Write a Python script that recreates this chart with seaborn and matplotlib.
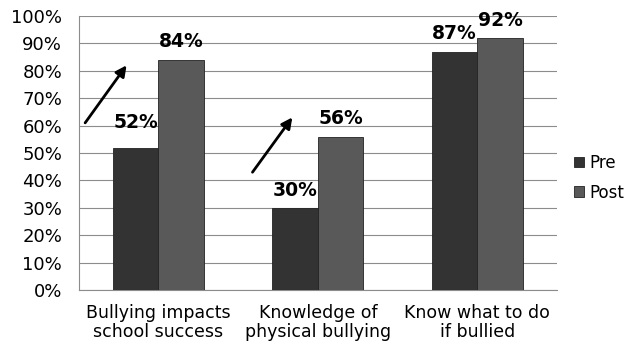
import matplotlib
matplotlib.use("Agg")
import matplotlib.pyplot as plt
import seaborn as sns
import pandas as pd
from matplotlib.ticker import PercentFormatter, FixedLocator

categories = ["Bullying impacts\nschool success", "Knowledge of\nphysical bullying", "Know what to do\nif bullied"]
pre = [52, 30, 87]
post = [84, 56, 92]
series = ["Pre", "Post"]
label_pad = [[11, 6], [6, 6], [6, 6]]  # points above bar top

# arrows (data coords): start x, start y, end x, end y
arrows = [(-0.46, 61, -0.20, 82), (0.59, 43, 0.84, 63)]

df = pd.DataFrame({
    "category": categories * 2,
    "value": pre + post,
    "series": ["Pre"] * 3 + ["Post"] * 3,
})

sns.set_style("white")
plt.rcParams["font.family"] = ["DejaVu Sans"]
plt.rcParams["text.color"] = "black"
plt.rcParams["xtick.color"] = "black"
plt.rcParams["ytick.color"] = "black"

fig = plt.figure(figsize=(6.3, 3.47), dpi=100)
ax = fig.add_axes([0.125, 0.164, 0.759, 0.79])

sns.barplot(data=df, x="category", y="value", hue="series", hue_order=series,
            palette=["#333333", "#595959"], width=0.57, edgecolor="#222222",
            linewidth=0.6, saturation=1, ax=ax, zorder=3)

ax.set_xlim(-0.5, 2.5)
ax.set_ylim(0, 100)
ax.yaxis.set_major_locator(FixedLocator(range(0, 101, 10)))
ax.yaxis.set_major_formatter(PercentFormatter(decimals=0))
ax.grid(axis="y", color="#8c8c8c", linewidth=0.8, zorder=0)
ax.set_axisbelow(True)

for s in ["top", "right"]:
    ax.spines[s].set_visible(False)
for s in ["left", "bottom"]:
    ax.spines[s].set_color("#8c8c8c")
    ax.spines[s].set_linewidth(0.8)

ax.tick_params(axis="y", length=5, color="#8c8c8c", labelsize=13, pad=7)
ax.tick_params(axis="x", which="major", length=0, labelsize=12.5, pad=10)
ax.set_xticks([-0.5, 0.5, 1.5, 2.5], minor=True)
ax.tick_params(axis="x", which="minor", length=5, color="#8c8c8c")
for t in ax.get_xticklabels():
    t.set_linespacing(1.1)
ax.set_xlabel("")
ax.set_ylabel("")

for ci, cont in enumerate(ax.containers):
    for bi, bar in enumerate(cont):
        h = bar.get_height()
        ax.annotate(f"{int(h)}%", (bar.get_x() + bar.get_width() / 2, h),
                    xytext=(0, label_pad[bi][ci]), textcoords="offset points",
                    ha="center", va="bottom", fontsize=13.5, fontweight="bold",
                    color="black")

for x0, y0, x1, y1 in arrows:
    ax.annotate("", xy=(x1, y1), xytext=(x0, y0),
                arrowprops=dict(arrowstyle="-|>", color="black", lw=2,
                                mutation_scale=16, shrinkA=0, shrinkB=0),
                annotation_clip=False)

leg = ax.legend(loc="center left", bbox_to_anchor=(1.012, 0.41), frameon=False,
                fontsize=12, handlelength=0.6, handleheight=0.6,
                handletextpad=0.3, labelspacing=0.7, borderpad=0.2)

fig.savefig("out.png", dpi=100)
